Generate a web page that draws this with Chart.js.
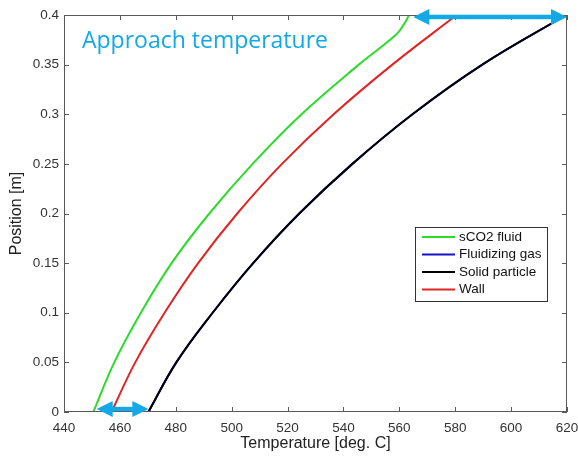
<!DOCTYPE html>
<html>
<head>
<meta charset="utf-8">
<script src="https://cdn.jsdelivr.net/npm/chart.js@4"></script>
<style>
  html, body { margin: 0; padding: 0; background: #fff; }
</style>
</head>
<body>
<canvas id="tempChart" width="578" height="456"></canvas>
<script>
// temperature profiles along the bed height
const position     = [0, 0.05, 0.1, 0.15, 0.2, 0.25, 0.3, 0.35, 0.4];
const sco2Position = [0, 0.05, 0.1, 0.15, 0.2, 0.25, 0.3, 0.35, 0.38, 0.39, 0.4];
const sco2Temp     = [450.5, 458, 467.5, 478.5, 492, 507.5, 525, 545.5, 558.8, 561.5, 563.5];
const gasTemp      = [470.2, 480.2, 493.2, 507.7, 524.2, 543.2, 564.7, 589.7, 619.7];
const particleTemp = [470.2, 480.2, 493.2, 507.7, 524.2, 543.2, 564.7, 589.7, 619.7];
const wallTemp     = [457, 465.5, 476, 488, 502, 518, 536.5, 557.5, 580.5];

const xTicks = [440, 460, 480, 500, 520, 540, 560, 580, 600, 620];
const yTicks = [0, 0.05, 0.1, 0.15, 0.2, 0.25, 0.3, 0.35, 0.4];
const yTickLabels = ['0', '0.05', '0.1', '0.15', '0.2', '0.25', '0.3', '0.35', '0.4'];

// approach temperature arrows: [from, to] in deg C, and the height they sit at
const approachTop = [565, 620];
const approachBottom = [451.7, 470.2];
const approachLevels = [0.398, 0.003];

const cyan = '#12a9e6';
const axisGray = '#5a5a5a';
const sans = "'Liberation Sans', Arial, sans-serif";

function pts(temps, ys) {
  return temps.map((t, i) => ({ x: t, y: ys[i] }));
}

function line(label, temps, ys, color, order) {
  return {
    label: label,
    data: pts(temps, ys),
    borderColor: color,
    backgroundColor: color,
    borderWidth: 2,
    pointRadius: 0,
    tension: 0.4,
    fill: false,
    order: order || 0
  };
}

function doubleArrow(ctx, x1, x2, y) {
  const head = 16, half = 8, shaft = 4.5;
  ctx.save();
  ctx.fillStyle = cyan;
  ctx.fillRect(x1 + head - 1, y - shaft / 2, x2 - x1 - 2 * head + 2, shaft);
  ctx.beginPath();
  ctx.moveTo(x1, y);
  ctx.lineTo(x1 + head, y - half);
  ctx.lineTo(x1 + head, y + half);
  ctx.closePath();
  ctx.fill();
  ctx.beginPath();
  ctx.moveTo(x2, y);
  ctx.lineTo(x2 - head, y - half);
  ctx.lineTo(x2 - head, y + half);
  ctx.closePath();
  ctx.fill();
  ctx.restore();
}

// box, inward ticks, legend and annotations, MATLAB style
const matlabDecor = {
  id: 'matlabDecor',
  afterDraw(chart) {
    const ctx = chart.ctx;
    const a = chart.chartArea;
    const xs = chart.scales.x, ys = chart.scales.y;
    const tl = 5;

    ctx.save();
    ctx.strokeStyle = axisGray;
    ctx.lineWidth = 1;
    ctx.strokeRect(a.left + 0.5, a.top + 0.5, a.right - a.left - 1, a.bottom - a.top - 1);
    ctx.beginPath();
    xTicks.forEach(v => {
      const px = Math.round(xs.getPixelForValue(v)) + 0.5;
      ctx.moveTo(px, a.bottom); ctx.lineTo(px, a.bottom - tl);
      ctx.moveTo(px, a.top); ctx.lineTo(px, a.top + tl);
    });
    yTicks.forEach(v => {
      const py = Math.round(ys.getPixelForValue(v)) + 0.5;
      ctx.moveTo(a.left, py); ctx.lineTo(a.left + tl, py);
      ctx.moveTo(a.right, py); ctx.lineTo(a.right - tl, py);
    });
    ctx.stroke();

    // legend
    const lx = 415, ly = 227, lw = 132, lh = 74, step = 17.5;
    ctx.fillStyle = '#fff';
    ctx.fillRect(lx, ly, lw, lh);
    ctx.strokeStyle = '#333';
    ctx.strokeRect(lx + 0.5, ly + 0.5, lw, lh);
    ctx.font = '13.5px ' + sans;
    ctx.textBaseline = 'middle';
    ctx.textAlign = 'left';
    chart.data.datasets.forEach((ds, i) => {
      const cy = ly + 10 + i * step;
      ctx.strokeStyle = ds.borderColor;
      ctx.lineWidth = 2;
      ctx.beginPath();
      ctx.moveTo(lx + 7, cy); ctx.lineTo(lx + 40, cy);
      ctx.stroke();
      ctx.fillStyle = '#111';
      ctx.fillText(ds.label, lx + 44, cy);
    });

    ctx.font = "23px 'Open Sans', sans-serif";
    ctx.fillStyle = cyan;
    ctx.textBaseline = 'alphabetic';
    ctx.fillText('Approach temperature', 82, 48);
    ctx.restore();

    doubleArrow(ctx, xs.getPixelForValue(approachTop[0]), xs.getPixelForValue(approachTop[1]), ys.getPixelForValue(approachLevels[0]));
    doubleArrow(ctx, xs.getPixelForValue(approachBottom[0]), xs.getPixelForValue(approachBottom[1]), ys.getPixelForValue(approachLevels[1]));
  }
};

const ctx = document.getElementById('tempChart').getContext('2d');
const tempChart = new Chart(ctx, {
  type: 'line',
  data: {
    datasets: [
      line('sCO2 fluid', sco2Temp, sco2Position, '#2bdc2b'),
      line('Fluidizing gas', gasTemp, position, '#1414c8', 1),   // hidden under the particle curve
      line('Solid particle', particleTemp, position, '#000000'),
      line('Wall', wallTemp, position, '#e02424')
    ]
  },
  options: {
    responsive: false,
    animation: false,
    devicePixelRatio: 1,
    layout: { padding: { top: 15, right: 11, left: 0, bottom: 0 } },
    plugins: {
      legend: { display: false },
      tooltip: { enabled: false }
    },
    scales: {
      x: {
        type: 'linear',
        min: 440, max: 620,
        afterBuildTicks: s => { s.ticks = xTicks.map(v => ({ value: v })); },
        afterFit: s => { s.height = 44; s.paddingLeft = 0; s.paddingRight = 0; },
        grid: { display: false, drawTicks: false },
        border: { display: false },
        ticks: { color: '#333', font: { family: sans, size: 13.5 }, padding: 8, maxRotation: 0 },
        title: { display: true, text: 'Temperature [deg. C]', color: '#222', font: { family: sans, size: 16 }, padding: { top: 0, bottom: 3 } }
      },
      y: {
        type: 'linear',
        min: 0, max: 0.4,
        afterBuildTicks: s => { s.ticks = yTicks.map(v => ({ value: v })); },
        afterFit: s => { s.width = 64; s.paddingTop = 0; s.paddingBottom = 0; },
        grid: { display: false, drawTicks: false },
        border: { display: false },
        ticks: { color: '#333', font: { family: sans, size: 13.5 }, padding: 5, callback: (v, i) => yTickLabels[i] },
        title: { display: true, text: 'Position [m]', color: '#222', font: { family: sans, size: 16 }, padding: { top: 7, bottom: 0 } }
      }
    }
  },
  plugins: [matlabDecor]
});
</script>
</body>
</html>
